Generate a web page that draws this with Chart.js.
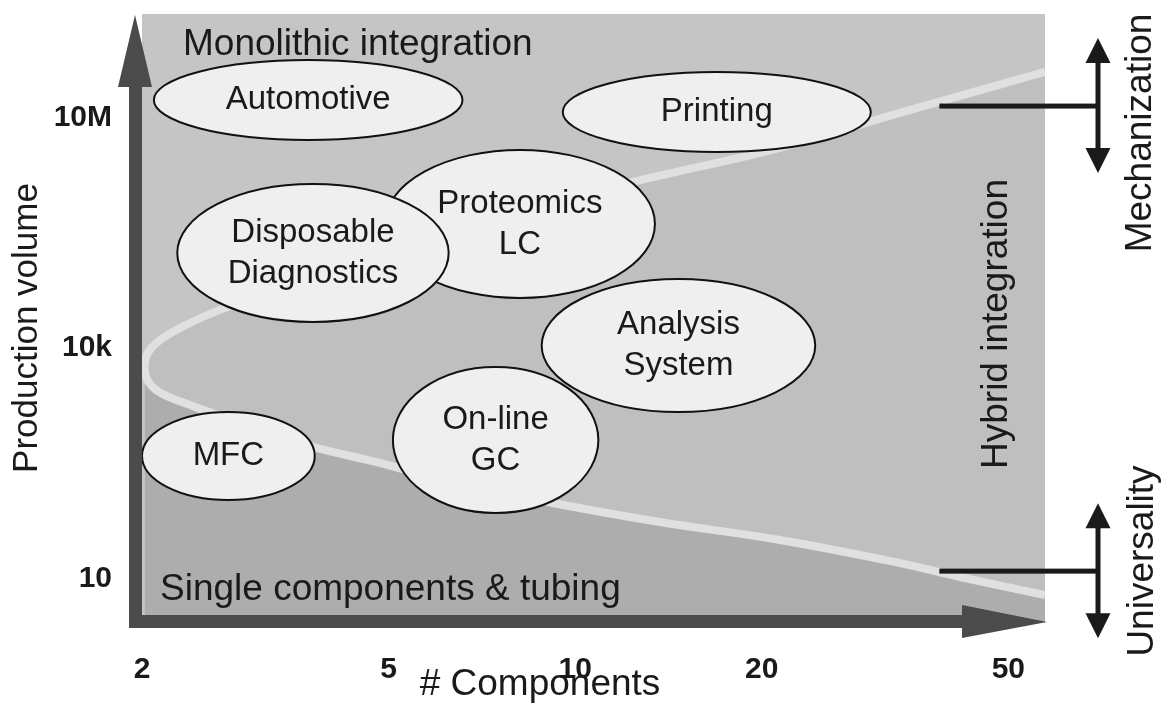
<!DOCTYPE html>
<html><head><meta charset="utf-8">
<script src="https://cdn.jsdelivr.net/npm/chart.js@4.4.1/dist/chart.umd.min.js"></script>
<style>html,body{margin:0;padding:0;background:#fff;}#wrap{width:1163px;height:727px;}</style>
</head><body><div id="wrap"><canvas id="c" width="1163" height="727"></canvas></div>
<script>
// ---- axes ----
const xTickValues = [2, 5, 10, 20, 50];
const xTickLabels = ['2', '5', '10', '20', '50'];
const yTickValues = [10, 10000, 10000000];
const yTickLabels = ['10', '10k', '10M'];
const xTitle = '# Components';
const yTitle = 'Production volume';

// ---- boundary curve (components, production volume) ----
const upperBranchX = [57.3, 33.4, 21.4, 12.4, 8.14, 5.61, 4.02, 3.21, 2.64, 2.32, 2.13, 2.04, 2.02];
const upperBranchY = [3.9e7, 1.14e7, 4.0e6, 1.44e6, 5.9e5, 2.4e5, 9.7e4, 5.3e4, 3.0e4, 1.87e4, 1.23e4, 8300, 5620];
const lowerBranchX = [2.04, 2.13, 2.32, 2.62, 3.09, 3.77, 4.84, 6.27, 9.2, 13.7, 21.4, 33.4, 41.8, 57.3];
const lowerBranchY = [3810, 2660, 1970, 1375, 851, 512, 317, 179, 95.6, 54, 31.5, 15.8, 10.4, 6.06];

// ---- application areas (ellipses) ----
const appNames = ['Proteomics\nLC', 'Disposable\nDiagnostics', 'Automotive', 'Printing', 'Analysis\nSystem', 'On-line\nGC', 'MFC'];
const appCompMin = [4.93, 2.28, 2.09, 9.55, 8.83, 5.08, 2.00];
const appCompMax = [13.45, 6.25, 6.58, 30.0, 24.4, 10.9, 3.80];
const appVolMin = [4.45e4, 2.17e4, 5.07e6, 3.53e6, 1460, 70.8, 104.5];
const appVolMax = [3.76e6, 1.355e6, 5.57e7, 3.89e7, 7.86e4, 5620, 1460];

// ---- region / side labels ----
const regionLabels = ['Monolithic integration', 'Single components & tubing', 'Hybrid integration'];
const sideLabels = ['Mechanization', 'Universality'];
const sideLevels = [1.4e7, 12.4];
const sideFromComp = 38.7;

const FONT = "'Liberation Sans', Arial, Helvetica, sans-serif";
const TXT = '#1a1a1a';

const pts = (xs, ys) => xs.map((v, i) => ({x: v, y: ys[i]}));
const curvePts = pts(upperBranchX, upperBranchY).concat(pts(lowerBranchX, lowerBranchY));
const middlePts = pts(upperBranchX, upperBranchY).reverse();
const lowerPts = [{x: upperBranchX[upperBranchX.length - 1], y: upperBranchY[upperBranchY.length - 1]}].concat(pts(lowerBranchX, lowerBranchY));

const decor = {
  id: 'decor',
  beforeDraw(chart) {
    const {ctx, chartArea: a} = chart;
    ctx.save();
    ctx.fillStyle = '#c5c5c5';
    ctx.fillRect(a.left, a.top, a.right - a.left, a.bottom - a.top);
    ctx.restore();
  },
  afterDatasetsDraw(chart) {
    const {ctx, scales: {x, y}} = chart;
    ctx.save();
    for (let i = 0; i < appNames.length; i++) {
      const x0 = x.getPixelForValue(appCompMin[i]), x1 = x.getPixelForValue(appCompMax[i]);
      const y0 = y.getPixelForValue(appVolMax[i]), y1 = y.getPixelForValue(appVolMin[i]);
      const cx = (x0 + x1) / 2, cy = (y0 + y1) / 2, rx = (x1 - x0) / 2, ry = (y1 - y0) / 2;
      ctx.beginPath();
      ctx.ellipse(cx, cy, rx, ry, 0, 0, Math.PI * 2);
      ctx.fillStyle = '#efefef';
      ctx.fill();
      ctx.lineWidth = 2;
      ctx.strokeStyle = '#111';
      ctx.stroke();
      const lines = appNames[i].split('\n');
      ctx.fillStyle = TXT;
      ctx.font = '33px ' + FONT;
      ctx.textAlign = 'center';
      ctx.textBaseline = 'middle';
      lines.forEach((t, k) => ctx.fillText(t, cx, cy + (k - (lines.length - 1) / 2) * 41));
    }
    ctx.restore();
  },
  afterDraw(chart) {
    const {ctx, chartArea: a, scales: {x, y}} = chart;
    ctx.save();
    // axis arrows
    ctx.fillStyle = '#4b4b4b';
    ctx.fillRect(a.left - 13, a.top + 73, 13, a.bottom - a.top - 67);
    ctx.beginPath();
    ctx.moveTo(a.left - 24, a.top + 73); ctx.lineTo(a.left + 10, a.top + 73); ctx.lineTo(a.left - 7, a.top + 1);
    ctx.closePath(); ctx.fill();
    ctx.fillRect(a.left - 13, a.bottom - 7, 833, 13);
    ctx.beginPath();
    ctx.moveTo(a.right - 83, a.bottom - 17); ctx.lineTo(a.right - 83, a.bottom + 16); ctx.lineTo(a.right + 2, a.bottom);
    ctx.closePath(); ctx.fill();

    // region labels
    ctx.fillStyle = TXT;
    ctx.font = '37px ' + FONT;
    ctx.textAlign = 'left';
    ctx.textBaseline = 'alphabetic';
    ctx.fillText(regionLabels[0], a.left + 41, a.top + 41);
    ctx.fillText(regionLabels[1], a.left + 18, a.bottom - 22);
    const vtext = (t, bx, cy) => {
      ctx.save(); ctx.translate(bx, cy); ctx.rotate(-Math.PI / 2);
      ctx.textAlign = 'center'; ctx.textBaseline = 'alphabetic';
      ctx.fillText(t, 0, 0); ctx.restore();
    };
    vtext(regionLabels[2], a.right - 38, 324);

    // side connectors and double arrows
    const ax = a.right + 53;
    const cx0 = x.getPixelForValue(sideFromComp);
    ctx.fillStyle = '#1a1a1a';
    sideLevels.forEach(lv => {
      const py = y.getPixelForValue(lv);
      ctx.fillRect(cx0, py - 2.5, ax - cx0 + 2, 5);
      ctx.fillRect(ax - 2.5, py - 45, 5, 90);
      ctx.beginPath();
      ctx.moveTo(ax, py - 68); ctx.lineTo(ax + 12.5, py - 43); ctx.lineTo(ax - 12.5, py - 43); ctx.closePath(); ctx.fill();
      ctx.beginPath();
      ctx.moveTo(ax, py + 67); ctx.lineTo(ax + 12.5, py + 42); ctx.lineTo(ax - 12.5, py + 42); ctx.closePath(); ctx.fill();
    });
    ctx.fillStyle = TXT;
    ctx.font = '37px ' + FONT;
    vtext(sideLabels[0], 1151, 133);
    vtext(sideLabels[1], 1153, 561);

    // axis titles
    ctx.font = '35px ' + FONT;
    vtext(yTitle, 37, 328);
    ctx.font = '37px ' + FONT;
    ctx.textAlign = 'center';
    ctx.textBaseline = 'alphabetic';
    ctx.fillText(xTitle, 540, 695);
    ctx.restore();
  }
};

new Chart(document.getElementById('c'), {
  type: 'line',
  data: {
    datasets: [
      {data: curvePts, borderColor: '#e0e0e0', borderWidth: 8, tension: 0.4, pointRadius: 0, fill: false, order: 0},
      {data: lowerPts, borderWidth: 0, borderColor: 'rgba(0,0,0,0)', backgroundColor: '#adadad', tension: 0.4, pointRadius: 0, fill: 'start', order: 2},
      {data: middlePts, borderWidth: 0, borderColor: 'rgba(0,0,0,0)', backgroundColor: '#bfbfbf', tension: 0.4, pointRadius: 0, fill: 'start', order: 3}
    ]
  },
  options: {
    responsive: false,
    devicePixelRatio: 1,
    animation: false,
    layout: {padding: {left: 0, top: 14, right: 118, bottom: 0}},
    plugins: {legend: {display: false}, tooltip: {enabled: false}, title: {display: false}},
    scales: {
      x: {
        type: 'logarithmic', min: 2, max: 57.3,
        grid: {display: false, drawTicks: false},
        border: {display: false},
        ticks: {
          font: {family: FONT, size: 30, weight: 'bold'}, color: TXT, padding: 30,
          autoSkip: false, maxRotation: 0, minRotation: 0,
          callback: (v) => xTickLabels[xTickValues.indexOf(v)]
        },
        afterBuildTicks: s => { s.ticks = xTickValues.map(v => ({value: v})); },
        afterFit: s => { s.height = 105; s.paddingLeft = 0; s.paddingRight = 0; }
      },
      y: {
        type: 'logarithmic', min: 2.70, max: 2.21e8,
        grid: {display: false, drawTicks: false},
        border: {display: false},
        ticks: {
          font: {family: FONT, size: 30, weight: 'bold'}, color: TXT, padding: 30,
          autoSkip: false,
          callback: (v) => yTickLabels[yTickValues.indexOf(v)]
        },
        afterBuildTicks: s => { s.ticks = yTickValues.map(v => ({value: v})); },
        afterFit: s => { s.width = 142; s.paddingTop = 0; s.paddingBottom = 0; }
      }
    }
  },
  plugins: [decor]
});
</script>
</body></html>
